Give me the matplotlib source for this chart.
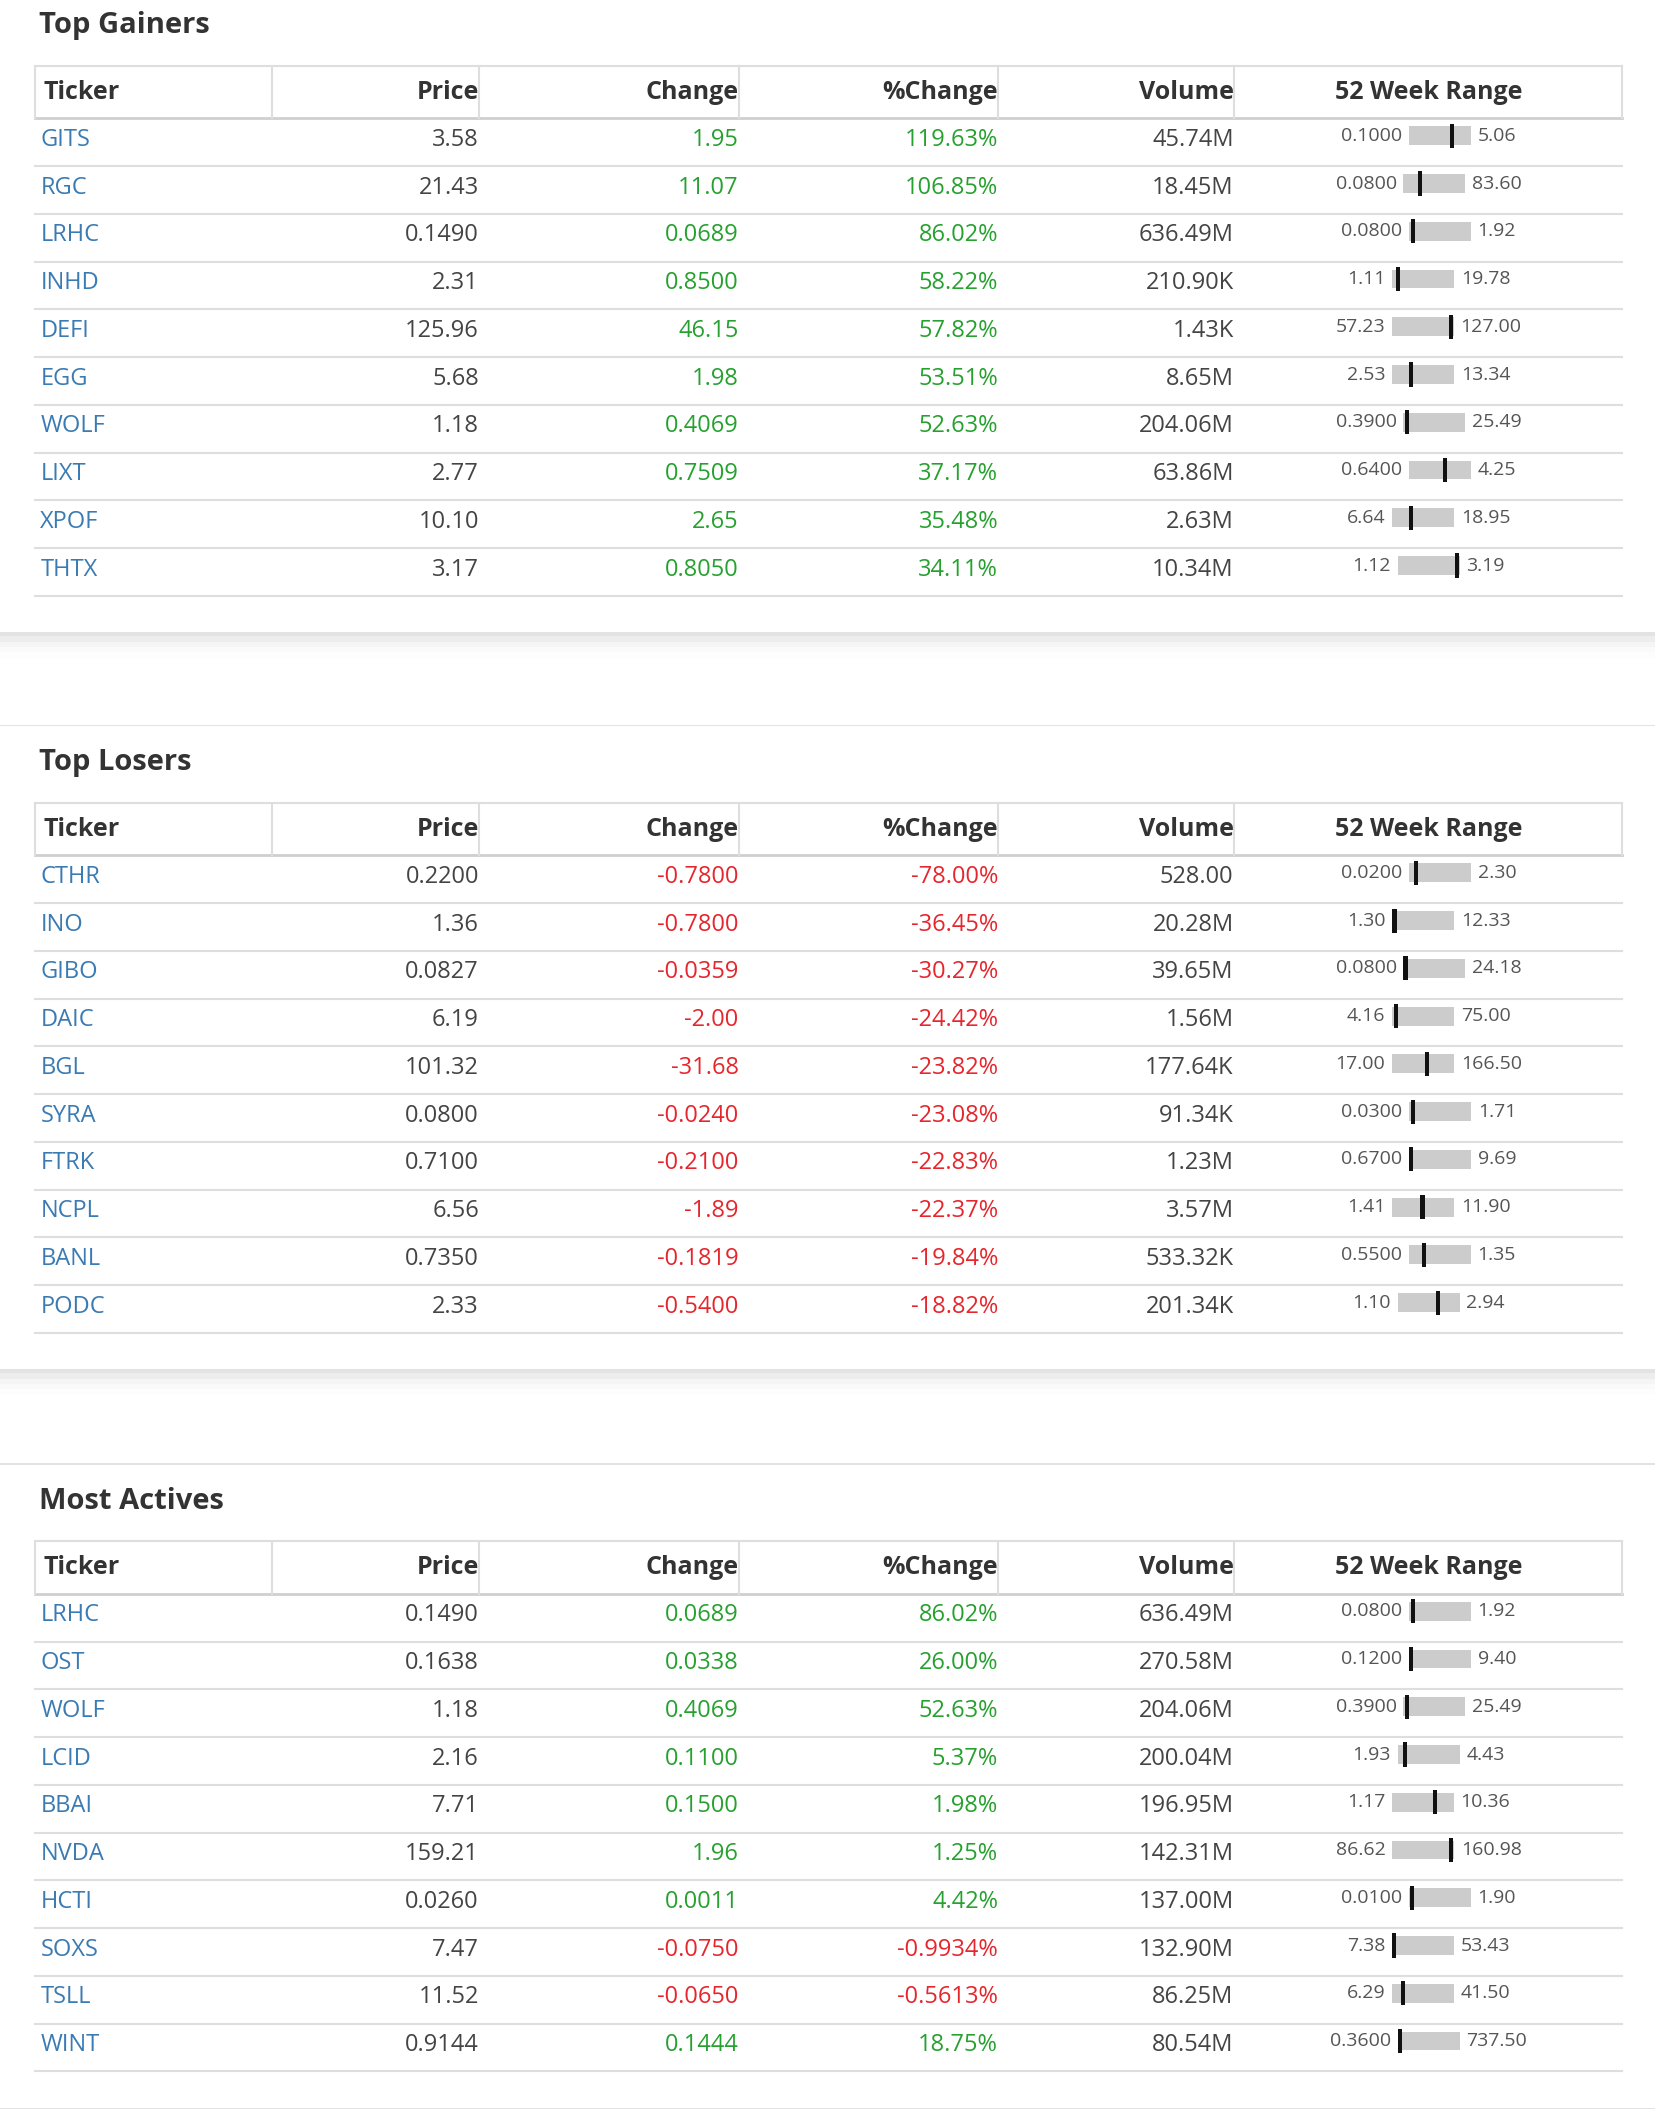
import matplotlib.pyplot as plt
from matplotlib.patches import Rectangle

plt.rcParams['font.family'] = ['Open Sans', 'DejaVu Sans']

W, H = 1231, 1568
GREEN = '#26a12f'
RED = '#e6262d'
BLUE = '#3b7bb3'
LINE = '#dedede'

cols = ['Ticker', 'Price', 'Change', '%Change', 'Volume', '52 Week Range']

gain_tickers = ['GITS', 'RGC', 'LRHC', 'INHD', 'DEFI', 'EGG', 'WOLF', 'LIXT', 'XPOF', 'THTX']
gain_price = ['3.58', '21.43', '0.1490', '2.31', '125.96', '5.68', '1.18', '2.77', '10.10', '3.17']
gain_change = ['1.95', '11.07', '0.0689', '0.8500', '46.15', '1.98', '0.4069', '0.7509', '2.65', '0.8050']
gain_pct = ['119.63%', '106.85%', '86.02%', '58.22%', '57.82%', '53.51%', '52.63%', '37.17%', '35.48%', '34.11%']
gain_vol = ['45.74M', '18.45M', '636.49M', '210.90K', '1.43K', '8.65M', '204.06M', '63.86M', '2.63M', '10.34M']
gain_low = ['0.1000', '0.0800', '0.0800', '1.11', '57.23', '2.53', '0.3900', '0.6400', '6.64', '1.12']
gain_high = ['5.06', '83.60', '1.92', '19.78', '127.00', '13.34', '25.49', '4.25', '18.95', '3.19']

lose_tickers = ['CTHR', 'INO', 'GIBO', 'DAIC', 'BGL', 'SYRA', 'FTRK', 'NCPL', 'BANL', 'PODC']
lose_price = ['0.2200', '1.36', '0.0827', '6.19', '101.32', '0.0800', '0.7100', '6.56', '0.7350', '2.33']
lose_change = ['-0.7800', '-0.7800', '-0.0359', '-2.00', '-31.68', '-0.0240', '-0.2100', '-1.89', '-0.1819', '-0.5400']
lose_pct = ['-78.00%', '-36.45%', '-30.27%', '-24.42%', '-23.82%', '-23.08%', '-22.83%', '-22.37%', '-19.84%', '-18.82%']
lose_vol = ['528.00', '20.28M', '39.65M', '1.56M', '177.64K', '91.34K', '1.23M', '3.57M', '533.32K', '201.34K']
lose_low = ['0.0200', '1.30', '0.0800', '4.16', '17.00', '0.0300', '0.6700', '1.41', '0.5500', '1.10']
lose_high = ['2.30', '12.33', '24.18', '75.00', '166.50', '1.71', '9.69', '11.90', '1.35', '2.94']

act_tickers = ['LRHC', 'OST', 'WOLF', 'LCID', 'BBAI', 'NVDA', 'HCTI', 'SOXS', 'TSLL', 'WINT']
act_price = ['0.1490', '0.1638', '1.18', '2.16', '7.71', '159.21', '0.0260', '7.47', '11.52', '0.9144']
act_change = ['0.0689', '0.0338', '0.4069', '0.1100', '0.1500', '1.96', '0.0011', '-0.0750', '-0.0650', '0.1444']
act_pct = ['86.02%', '26.00%', '52.63%', '5.37%', '1.98%', '1.25%', '4.42%', '-0.9934%', '-0.5613%', '18.75%']
act_vol = ['636.49M', '270.58M', '204.06M', '200.04M', '196.95M', '142.31M', '137.00M', '132.90M', '86.25M', '80.54M']
act_low = ['0.0800', '0.1200', '0.3900', '1.93', '1.17', '86.62', '0.0100', '7.38', '6.29', '0.3600']
act_high = ['1.92', '9.40', '25.49', '4.43', '10.36', '160.98', '1.90', '53.43', '41.50', '737.50']

sections = [
    ('Top Gainers', 0, gain_tickers, gain_price, gain_change, gain_pct, gain_vol, gain_low, gain_high),
    ('Top Losers', 548, lose_tickers, lose_price, lose_change, lose_pct, lose_vol, lose_low, lose_high),
    ('Most Actives', 1097, act_tickers, act_price, act_change, act_pct, act_vol, act_low, act_high),
]

fig = plt.figure(figsize=(16.56, 21.09), dpi=100)
ax = fig.add_axes([0, 0, 1, 1])
ax.set_xlim(0, W)
ax.set_ylim(H, 0)
ax.axis('off')
fig.patch.set_facecolor('white')
renderer = fig.canvas.get_renderer()
scale = 1656 / W

borders = [26, 202, 356, 549, 742, 917, 1206]
right_x = [None, 356, 549, 742, 917]
rng_c = 1062
rowh = 35.5


def text_w(t):
    return t.get_window_extent(renderer).width / scale


for title, y0, tick, price, chg, pct, vol, low, high in sections:
    top = y0 - 8 if y0 else -5
    bot = y0 + 470
    # shadow + card
    for i, a in enumerate([0.04, 0.03, 0.02, 0.012, 0.006]):
        ax.add_patch(Rectangle((0, top - 1), W, bot - top + 4 + 4 * i, color='black', alpha=a, lw=0, zorder=0))
    ax.add_patch(Rectangle((0, top), W, bot - top, color='white', lw=0, zorder=1))
    ax.text(29, y0 + 19, title, fontsize=21, fontweight='bold', color='#333333', va='center', zorder=3)
    hy0, hy1 = y0 + 49, y0 + 88
    hy = (hy0 + hy1) / 2
    ax.plot([26, 1206], [hy0, hy0], color=LINE, lw=1.5, zorder=2)
    ax.plot([26, 1206], [hy1, hy1], color='#cfcfcf', lw=2, zorder=2)
    for bx in borders:
        ax.plot([bx, bx], [hy0, hy1], color=LINE, lw=1.5, zorder=2)
    for j, c in enumerate(cols):
        if j == 0:
            ax.text(32, hy, c, fontsize=18, fontweight='bold', color='#333333', va='center', zorder=3)
        elif j == 5:
            ax.text(rng_c, hy, c, fontsize=18, fontweight='bold', color='#333333', va='center', ha='center', zorder=3)
        else:
            ax.text(right_x[j], hy, c, fontsize=18, fontweight='bold', color='#333333', va='center', ha='right', zorder=3)
    for i in range(len(tick)):
        cy = hy1 + rowh * (i + 0.45)
        ax.plot([26, 1206], [hy1 + rowh * (i + 1), hy1 + rowh * (i + 1)], color=LINE, lw=1.5, zorder=2)
        col = RED if chg[i].startswith('-') else GREEN
        ax.text(30, cy, tick[i], fontsize=17, color=BLUE, va='center', zorder=3)
        ax.text(356, cy, price[i], fontsize=17, color='#444444', va='center', ha='right', zorder=3)
        ax.text(549, cy, chg[i], fontsize=17, color=col, va='center', ha='right', zorder=3)
        ax.text(742, cy, pct[i], fontsize=17, color=col, va='center', ha='right', zorder=3)
        ax.text(917, cy, vol[i], fontsize=17, color='#444444', va='center', ha='right', zorder=3)
        # 52 week range: label, bar, label centered as a group
        ry = cy - 3
        tl = ax.text(0, ry, low[i], fontsize=14, color='#555555', va='center', zorder=3)
        th = ax.text(0, ry, high[i], fontsize=14, color='#555555', va='center', zorder=3)
        wl, wh = text_w(tl), text_w(th)
        barw, gap = 46, 5
        total = wl + gap + barw + gap + wh
        x0 = rng_c - total / 2
        tl.set_x(x0)
        bx0 = x0 + wl + gap
        th.set_x(bx0 + barw + gap)
        ax.add_patch(Rectangle((bx0, ry - 7), barw, 14, color='#cccccc', lw=0, zorder=3))
        p = float(price[i])
        lo, hi = float(low[i]), float(high[i])
        f = min(max((p - lo) / (hi - lo), 0), 1)
        ax.add_patch(Rectangle((bx0 + f * (barw - 3), ry - 9), 3, 18, color='#111111', lw=0, zorder=4))

fig.savefig('out.png', dpi=100, facecolor=fig.get_facecolor())
